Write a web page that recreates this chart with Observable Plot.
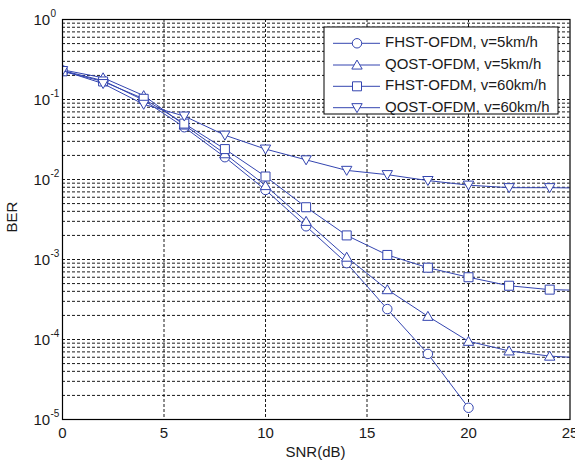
<!DOCTYPE html>
<html>
<head>
<meta charset="utf-8">
<script src="https://cdn.jsdelivr.net/npm/d3@7"></script>
<script src="https://cdn.jsdelivr.net/npm/@observablehq/plot@0.6"></script>
<style>
  html, body { margin: 0; padding: 0; background: white; }
</style>
</head>
<body>
<div id="chart"></div>
<script>
// ---- data ----
const snr = [0, 2, 4, 6, 8, 10, 12, 14, 16, 18, 20, 22, 24, 26];
const fhst5  = [0.23, 0.172, 0.098, 0.045, 0.019, 0.0074, 0.0026, 9.0e-4, 2.4e-4, 6.6e-5, 1.4e-5];
const qost5  = [0.235, 0.187, 0.112, 0.048, 0.021, 0.0084, 0.0030, 1.07e-3, 4.2e-4, 1.95e-4, 9.5e-5, 7.2e-5, 6.2e-5, 5.8e-5];
const fhst60 = [0.225, 0.168, 0.102, 0.050, 0.024, 0.0109, 0.0045, 2.0e-3, 1.14e-3, 7.9e-4, 6.0e-4, 4.7e-4, 4.2e-4, 4.1e-4];
const qost60 = [0.23, 0.158, 0.087, 0.062, 0.0358, 0.024, 0.0176, 0.013, 0.0115, 0.0097, 0.0085, 0.0079, 0.0079, 0.0078];
const seriesNames = ["FHST-OFDM, v=5km/h", "QOST-OFDM, v=5km/h", "FHST-OFDM, v=60km/h", "QOST-OFDM, v=60km/h"];
const xTicks = [0, 5, 10, 15, 20, 25];
const xGrid = [5, 10, 15, 20];
const yTicks = [1, 1e-1, 1e-2, 1e-3, 1e-4, 1e-5];

const color = "#3445B0";

// ---- marker symbols ----
const symCircle = {draw(ctx, size) { const r = Math.sqrt(size / Math.PI) * 1.05; ctx.moveTo(r, 0); ctx.arc(0, 0, r, 0, 2 * Math.PI); }};
const symUp = {draw(ctx, size) { const r = Math.sqrt(size / Math.PI); ctx.moveTo(0, -r * 1.1); ctx.lineTo(r * 1.15, r * 0.9); ctx.lineTo(-r * 1.15, r * 0.9); ctx.closePath(); }};
const symDown = {draw(ctx, size) { const r = Math.sqrt(size / Math.PI); ctx.moveTo(0, r * 1.1); ctx.lineTo(r * 1.15, -r * 0.9); ctx.lineTo(-r * 1.15, -r * 0.9); ctx.closePath(); }};
const symSquare = {draw(ctx, size) { const r = Math.sqrt(size / Math.PI); ctx.rect(-r, -r, 2 * r, 2 * r); }};
const symbols = [symCircle, symUp, symSquare, symDown];

const seriesValues = [fhst5, qost5, fhst60, qost60];
const series = seriesValues.map((vals, i) => vals.map((v, j) => ({x: snr[j], y: v, s: i})));

// log grid values (1..9 per decade)
const yGrid = [];
for (let e = -5; e < 0; e++) for (let m = 1; m <= 9; m++) yGrid.push(m * Math.pow(10, e));

const W = 575, H = 462;
const gridStyle = {stroke: "#000", strokeWidth: 0.9, strokeDasharray: "3,2"};
const marks = [
  Plot.ruleY(yGrid, gridStyle),
  Plot.ruleX(xGrid, gridStyle),
];
series.forEach((d, i) => {
  marks.push(Plot.line(d, {x: "x", y: "y", stroke: color, strokeWidth: 1, clip: true}));
  marks.push(Plot.dot(d, {x: "x", y: "y", symbol: symbols[i], r: 4.5, stroke: color, fill: "white", strokeWidth: 1, clip: true}));
});
marks.push(Plot.frame({stroke: "#000", strokeWidth: 1.2}));
marks.push(Plot.text(yTicks, {y: d => d, frameAnchor: "left", dx: -29, dy: 1, textAnchor: "start", text: () => "10", fontSize: 15, fill: "#1a1a1a"}));
marks.push(Plot.text(yTicks, {y: d => d, frameAnchor: "left", dx: -12, dy: -6, textAnchor: "start", text: d => String(Math.round(Math.log10(d))), fontSize: 10, fill: "#1a1a1a"}));

const svg = Plot.plot({
  width: W, height: H,
  marginLeft: 62, marginRight: 5.5, marginTop: 19, marginBottom: 43,
  style: {fontFamily: "'Liberation Sans', Arial, sans-serif", fontSize: "15px", background: "white", color: "#1a1a1a"},
  x: {domain: [0, 25], ticks: xTicks, tickSize: 0, tickPadding: 8, label: null},
  y: {type: "log", domain: [1e-5, 1], axis: null},
  marks
});
document.getElementById("chart").appendChild(svg);

// ---- axis titles ----
const s = d3.select(svg);
s.append("text").attr("x", 315.5).attr("y", 453).attr("text-anchor", "middle")
  .attr("dominant-baseline", "middle").attr("fill", "#1a1a1a").attr("font-size", 15).text("SNR(dB)");
s.append("text").attr("transform", "translate(13,217) rotate(-90)").attr("text-anchor", "middle")
  .attr("dominant-baseline", "middle").attr("fill", "#1a1a1a").attr("font-size", 15).text("BER");

// ---- legend ----
const lg = s.append("g");
lg.append("rect").attr("x", 324).attr("y", 27).attr("width", 234).attr("height", 87)
  .attr("fill", "white").attr("stroke", "#000").attr("stroke-width", 1);
const legendY = [43.3, 65, 86.3, 107.7];
seriesNames.forEach((name, i) => {
  const y = legendY[i];
  lg.append("line").attr("x1", 333).attr("x2", 380).attr("y1", y).attr("y2", y)
    .attr("stroke", color).attr("stroke-width", 1);
  const p = d3.path();
  symbols[i].draw(p, 4.5 * 4.5 * Math.PI);
  lg.append("path").attr("d", p.toString()).attr("transform", `translate(357,${y})`)
    .attr("fill", "white").attr("stroke", color).attr("stroke-width", 1);
  lg.append("text").attr("x", 385).attr("y", y).attr("text-anchor", "start").attr("dominant-baseline", "middle")
    .attr("fill", "#1a1a1a").attr("font-size", 15).text(name);
});
</script>
</body>
</html>
